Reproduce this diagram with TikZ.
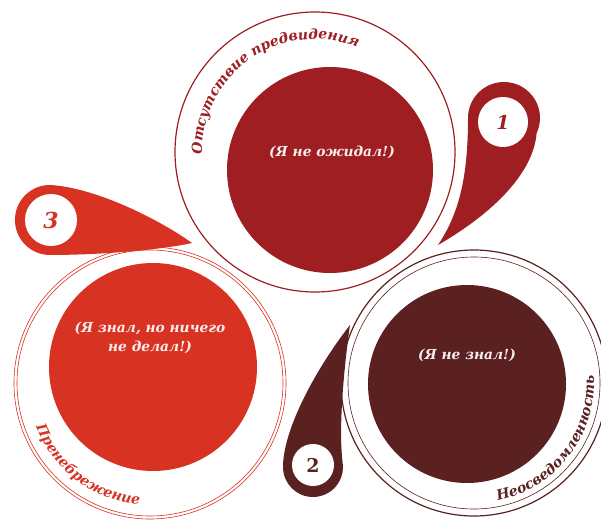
\documentclass[tikz,border=0pt]{standalone}
\usepackage{fontspec}
\setmainfont{DejaVu Serif}
\usetikzlibrary{decorations.text}
\definecolor{cA}{RGB}{158,30,34}
\definecolor{cB}{RGB}{216,50,34}
\definecolor{cC}{RGB}{90,33,32}
\definecolor{txtw}{RGB}{250,238,236}
\begin{document}
\begin{tikzpicture}[x=1pt,y=1pt,
  ringline/.style={line width=1.2pt},
  thinring/.style={line width=0.6pt},
  centertext/.style={text=txtw, font=\bfseries\itshape\fontsize{13.8}{18.5}\selectfont, align=center},
  numtext/.style={font=\bfseries\itshape\fontsize{19}{19}\selectfont}]
\useasboundingbox[fill=white] (0,0) rectangle (601,520);
% ---------- top circle ----------
\draw[cA, ringline] (315,368) circle[radius=140];
\fill[cA] (330,350) circle[radius=103];
\node[centertext] (t1) at (332,368) {(Я не ожидал!)};
\path[decorate, decoration={text along path, text align=center,
  text={|\bfseries\itshape\fontsize{14}{14}\selectfont\color{cA}|Отсутствие предвидения}}]
  (315,368) ++(183:113) arc[start angle=183, end angle=66, radius=113];
% ---------- bottom-left circle ----------
\draw[cB, thinring] (150,137) circle[radius=136];
\draw[cB, thinring] (150,137) circle[radius=133];
\fill[cB] (153,153) circle[radius=104];
\node[centertext] (t3) at (150,182) {(Я знал, но ничего\\не делал!)};
\path[decorate, decoration={text along path, text align=center,
  text={|\bfseries\itshape\fontsize{14}{14}\selectfont\color{cB}|Пренебрежение}}]
  (150,137) ++(200:122) arc[start angle=200, end angle=266, radius=122];
% ---------- bottom-right circle ----------
\draw[cC, ringline] (474,137) circle[radius=133];
\draw[cC, thinring] (474,137) circle[radius=126];
\fill[cC] (467,136) circle[radius=99];
\node[centertext] (t2) at (467,165) {(Я не знал!)};
\path[decorate, decoration={text along path, text align=center,
  text={|\bfseries\itshape\fontsize{14}{14}\selectfont\color{cC}|Неосведомленность}}]
  (474,137) ++(-85:120) arc[start angle=-85, end angle=10, radius=120];
% ---------- drop 1 ----------
\fill[cA] (438,275) .. controls (458,305) and (468,340) .. (468,402)
  arc[start angle=180, end angle=-25, radius=36]
  .. controls (533,345) and (490,305) .. (438,275) -- cycle;
\fill[white] (503,398) circle[radius=25];
\node[numtext, text=cA] (n1) at (503,398) {1};
% ---------- drop 3 ----------
\fill[cB] (192,277) .. controls (160,300) and (100,330) .. (56,334.5)
  arc[start angle=80, end angle=270, radius=35]
  .. controls (100,265) and (160,270) .. (192,277) -- cycle;
\fill[white] (51,300) circle[radius=26];
\node[numtext, text=cB, font=\bfseries\itshape\fontsize{22}{22}\selectfont] (n3) at (51,300) {3};
% ---------- drop 2 ----------
\fill[cC] (350,195) .. controls (315,150) and (283,90) .. (283,53)
  arc[start angle=180, end angle=370, radius=30]
  .. controls (338,95) and (345,160) .. (350,195) -- cycle;
\fill[white] (313,55) circle[radius=21];
\node[numtext, text=cC, font=\bfseries\fontsize{19}{19}\selectfont] (n2) at (313,55) {2};
\end{tikzpicture}
\end{document}
